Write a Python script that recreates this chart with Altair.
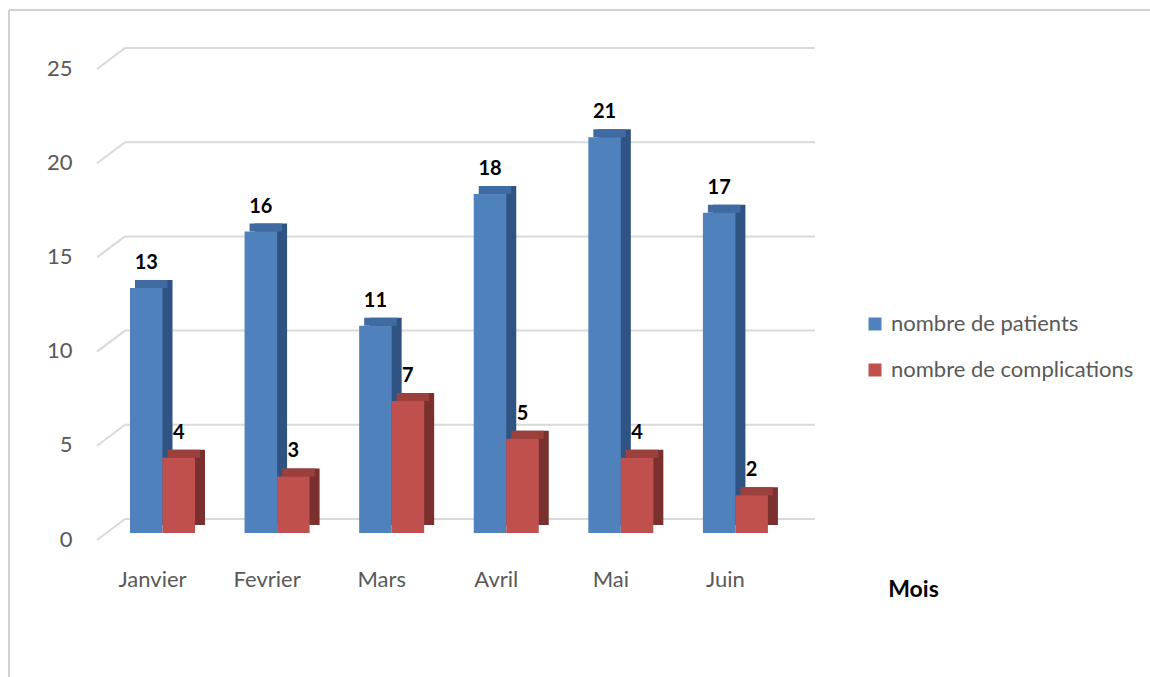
import altair as alt
import pandas as pd

months = ["Janvier", "Fevrier", "Mars", "Avril", "Mai", "Juin"]
series = ["nombre de patients", "nombre de complications"]
patients = [13, 16, 11, 18, 21, 17]
complications = [4, 3, 7, 5, 4, 2]
y_ticks = [0, 5, 10, 15, 20, 25]

front_colors = ["#4F81BD", "#C0504D"]
top_colors = ["#3F6BA2", "#9C403D"]
side_colors = ["#2F5383", "#7A302E"]

rows = []
for m, p, c in zip(months, patients, complications):
    rows.append({"mois": m, "serie": series[0], "valeur": p})
    rows.append({"mois": m, "serie": series[1], "valeur": c})
df = pd.DataFrame(rows)
grid_df = pd.DataFrame({"t": y_ticks})

FONT = "Lato"
GRAY = "#595959"
GRID = "#D9D9D9"
BAND = 65  # width of a month group in pixels

x_enc = alt.X(
    "mois:N", sort=months,
    scale=alt.Scale(paddingInner=0.432, paddingOuter=0.288),
    axis=alt.Axis(
        title="Mois", labelAngle=0, domain=False, ticks=False,
        labelPadding=36, labelOffset=-10, labelFontSize=22, labelColor=GRAY,
        labelFont=FONT, titleFont=FONT, titleFontSize=23, titleFontWeight="bold",
        titleColor="#000000", titleX=816, titleY=56, titleAlign="center",
        titleBaseline="middle", grid=False,
    ),
)
y_axis = alt.Axis(
    title=None, values=y_ticks, domain=False, ticks=False, grid=False,
    labelPadding=25, labelOffset=6, labelFontSize=22, labelColor=GRAY,
    labelFont=FONT,
)
y_scale = alt.Scale(domain=[0, 25], nice=False)
y_enc = alt.Y("valeur:Q", scale=y_scale, axis=y_axis)


def xo(shift):
    return alt.XOffset("serie:N", sort=series,
                       scale=alt.Scale(domain=series, range=[shift, shift + BAND]))


grid = alt.Chart(grid_df).mark_rule(color=GRID, strokeWidth=2, yOffset=-14).encode(
    y=alt.Y("t:Q", scale=y_scale, axis=y_axis),
    x=alt.value(28), x2=alt.value(718),
)
diag = alt.Chart(grid_df).mark_rule(color=GRID, strokeWidth=2, yOffset=7, y2Offset=-14).encode(
    y=alt.Y("t:Q", scale=y_scale, axis=y_axis),
    y2="t:Q",
    x=alt.value(0), x2=alt.value(28),
)

layers = [grid, diag]
for s, sc in zip(series, side_colors):
    layers.append(
        alt.Chart(df).transform_filter(alt.datum.serie == s)
        .mark_bar(yOffset=-8, color=sc)
        .encode(x=x_enc, y=y_enc, xOffset=xo(10))
    )
for s, tc in zip(series, top_colors):
    layers.append(
        alt.Chart(df).transform_filter(alt.datum.serie == s)
        .mark_bar(y2Offset=-8, color=tc)
        .encode(x=x_enc, y=y_enc, y2="valeur:Q", xOffset=xo(5))
    )

front = alt.Chart(df).mark_bar().encode(
    x=x_enc, y=y_enc, xOffset=xo(0),
    color=alt.Color(
        "serie:N", sort=series,
        scale=alt.Scale(domain=series, range=front_colors),
        legend=alt.Legend(
            title=None, orient="none", legendX=767, legendY=251,
            symbolType="square", symbolSize=169, symbolStrokeWidth=0,
            labelFontSize=22, labelFont=FONT, labelColor=GRAY, labelLimit=0,
            labelOffset=5, rowPadding=24,
        ),
    ),
)
labels = alt.Chart(df).mark_text(
    font=FONT, fontSize=20, fontWeight="bold", color="#000000",
    dy=-25, baseline="middle", align="center",
).encode(
    x=x_enc, y=y_enc, xOffset=xo(0), text="valeur:Q",
)

border = alt.Chart(grid_df).mark_rule(color="#D0D0D0", strokeWidth=2).encode(
    x=alt.value(-88), x2=alt.value(1053), y=alt.value(-52),
)
border_left = alt.Chart(grid_df).mark_rule(color="#D0D0D0", strokeWidth=2).encode(
    x=alt.value(-88), y=alt.value(-52), y2=alt.value(615),
)

layers += [front, labels, border, border_left]

chart = alt.layer(*layers).resolve_scale(xOffset="independent").properties(
    width=704, height=471,
    padding={"left": 97, "top": 62, "right": 349, "bottom": 144},
    autosize=alt.AutoSizeParams(type="none"),
    background="#FFFFFF",
).configure_view(stroke=None)

chart.save("out.html", embed_options={"renderer": "svg", "actions": False})
